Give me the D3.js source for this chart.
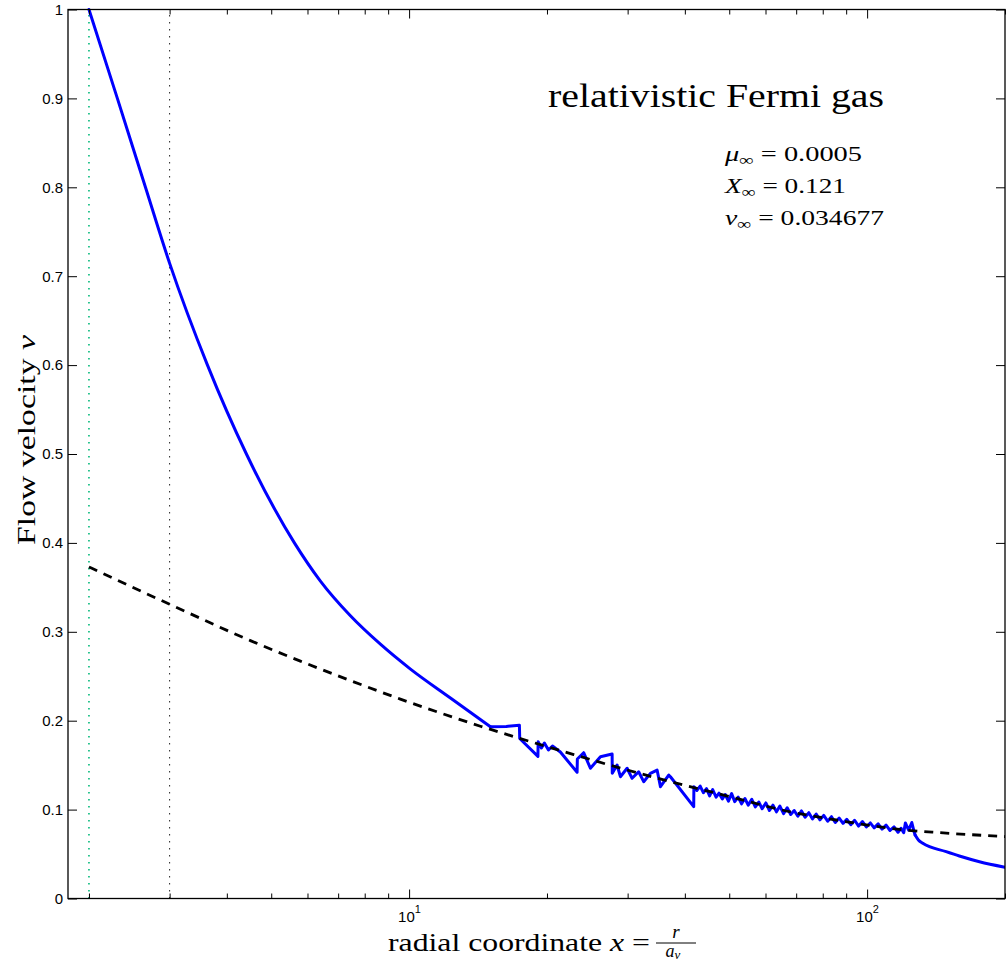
<!DOCTYPE html>
<html>
<head>
<meta charset="utf-8">
<script src="https://cdn.jsdelivr.net/npm/d3@7"></script>
<style>
body { margin: 0; background: #fff; }
</style>
</head>
<body>
<div id="graph"></div>
<script>
var svgWidth = 1008;
var svgHeight = 964;

// blue curve, smooth part before the shocks
var headX = [2.0, 2.307, 2.657, 2.998, 3.629, 4.414, 5.618, 6.403, 7.445, 8.657, 10.07, 12.31, 15.05];
var headV = [1.0, 0.90, 0.80, 0.715, 0.60, 0.50, 0.40, 0.357, 0.318, 0.286, 0.258, 0.2255, 0.1932];

// blue curve, noisy part
var noiseX = [15.05, 16.3, 17.41, 17.44, 19.11, 19.13, 19.45, 19.74, 20.15, 20.56, 21.39, 23.27, 23.30, 24.05, 24.88, 26.17, 27.75,
	27.77, 28.45, 28.93, 29.92, 30.68, 31.71, 32.52, 33.64, 34.79, 35.38, 36.88, 37.2, 41.82, 41.86,
	42.5, 43.2, 43.9, 44.6, 45.3, 46.0, 46.8, 47.5, 48.3, 49.0, 49.8, 50.6, 51.4, 52.3, 53.2, 54.1, 55.0, 56.0, 57.0, 58.0,
	59.0, 60.1, 61.2, 62.3, 63.4, 64.5, 65.7, 66.9, 68.1, 69.3, 70.6, 71.9, 73.2, 74.6, 76.0, 77.4, 78.9, 80.4, 82.0, 83.6,
	85.2, 86.9, 88.6, 90.3, 92.1, 93.9, 95.8, 97.7, 99.6, 101.6, 103.6, 105.7, 107.8, 110.0, 112.2, 114.5, 116.8, 118.6,
	120.2, 121.2, 123.2, 125.2, 126.5, 127.3];
var noiseV = [0.1932, 0.1935, 0.195, 0.180, 0.1598, 0.1764, 0.1693, 0.1749, 0.167, 0.1715, 0.1648, 0.142, 0.1569, 0.164, 0.1465, 0.1595, 0.1625,
	0.1408, 0.1502, 0.137, 0.1465, 0.1352, 0.1426, 0.1314, 0.1408, 0.1445, 0.1258, 0.1389, 0.137, 0.1033, 0.1258,
	0.1215, 0.1265, 0.1190, 0.1235, 0.1155, 0.1225, 0.1140, 0.1185, 0.1120, 0.1170, 0.1095, 0.1180, 0.1090, 0.1140, 0.1065, 0.1125, 0.1050, 0.1115, 0.1030, 0.1085,
	0.1010, 0.1075, 0.0990, 0.1050, 0.0975, 0.1040, 0.0955, 0.1020, 0.0945, 0.0990, 0.0925, 0.0985, 0.0915, 0.0965, 0.0895, 0.0950, 0.0885, 0.0935, 0.0870, 0.0920,
	0.0855, 0.0905, 0.0845, 0.0890, 0.0830, 0.0880, 0.0815, 0.0865, 0.0805, 0.0850, 0.0795, 0.0840, 0.0780, 0.0825, 0.0765, 0.0805, 0.0745, 0.0790,
	0.0740, 0.0850, 0.0770, 0.0855, 0.0760, 0.0714];

// blue curve, smooth tail
var tailX = [127.3, 129.4, 132.3, 148.8, 159.0, 175.9, 200];
var tailV = [0.0714, 0.0658, 0.0621, 0.0527, 0.0478, 0.0414, 0.0352];

// black dashed curve
var dashX = [2.0, 3.0, 4.503, 5.79, 7.445, 9.57, 11.70, 14.31, 17.21, 22.88, 28.45, 38.48, 48.64, 68.0, 87.45, 116.3, 144.5, 200];
var dashV = [0.3729, 0.331, 0.2901, 0.267, 0.2451, 0.2243, 0.2087, 0.1938, 0.181, 0.1619, 0.1477, 0.1295, 0.1163, 0.0975, 0.0875, 0.078, 0.074, 0.0697];

var greenLineX = 2;
var blackLineX = 3;

var yTicks = [0, 0.1, 0.2, 0.3, 0.4, 0.5, 0.6, 0.7, 0.8, 0.9, 1];
var xMajorTicks = [10, 100];
var xMajorExp = ["1", "2"];
var xMinorTicks = [2, 3, 4, 5, 6, 7, 8, 9, 20, 30, 40, 50, 60, 70, 80, 90, 200];

var paramNames = ["μ", "X", "v"];
var paramValues = ["0.0005", "0.121", "0.034677"];
var paramWidths = [137, 121, 159];

var svg = d3.select("#graph")
	.append("svg")
	.attr("width", svgWidth)
	.attr("height", svgHeight)
	.style("display", "block");

var padL = 68, padR = 1005, padT = 9.5, padB = 898.5;

var x = d3.scaleLog().domain([1.8, 200]).range([padL, padR]);
var y = d3.scaleLinear().domain([0, 1]).range([padB, padT]);

svg.append("clipPath").attr("id", "clip")
	.append("rect")
	.attr("x", padL).attr("y", padT - 2)
	.attr("width", padR - padL).attr("height", padB - padT + 2);

var plot = svg.append("g").attr("clip-path", "url(#clip)");

// vertical dotted markers
plot.append("line")
	.attr("x1", x(greenLineX)).attr("x2", x(greenLineX))
	.attr("y1", y(0)).attr("y2", y(1))
	.attr("stroke", "#00b878")
	.attr("stroke-width", 1.6)
	.attr("stroke-dasharray", "1.5,5.5");

plot.append("line")
	.attr("x1", x(blackLineX)).attr("x2", x(blackLineX))
	.attr("y1", y(0)).attr("y2", y(1))
	.attr("stroke", "#222")
	.attr("stroke-width", 1)
	.attr("stroke-dasharray", "1.5,5.5");

function pairs(xs, vs) { return xs.map((d, i) => [d, vs[i]]); }

var smoothLine = d3.line()
	.x(d => x(d[0]))
	.y(d => y(d[1]))
	.curve(d3.curveMonotoneX);

var rawLine = d3.line()
	.x(d => x(d[0]))
	.y(d => y(d[1]));

var blueG = plot.append("g")
	.attr("fill", "none")
	.attr("stroke", "#0000ff")
	.attr("stroke-width", 3)
	.attr("stroke-linejoin", "round")
	.attr("stroke-linecap", "round");

blueG.append("path").datum(pairs(headX, headV)).attr("d", smoothLine);
blueG.append("path").datum(pairs(noiseX, noiseV)).attr("d", rawLine);
blueG.append("path").datum(pairs(tailX, tailV)).attr("d", smoothLine);

plot.append("path")
	.datum(pairs(dashX, dashV))
	.attr("d", smoothLine)
	.attr("fill", "none")
	.attr("stroke", "#000")
	.attr("stroke-width", 2.8)
	.attr("stroke-dasharray", "9,7");

// axes box
svg.append("rect")
	.attr("x", padL).attr("y", padT)
	.attr("width", padR - padL).attr("height", padB - padT)
	.attr("fill", "none")
	.attr("stroke", "#000")
	.attr("stroke-width", 1.3);

var tickFont = "'Liberation Sans', Arial, Helvetica, sans-serif";

var yAxis = svg.append("g")
	.attr("transform", "translate(" + padL + ",0)")
	.call(d3.axisLeft(y).tickValues(yTicks).tickSize(-9).tickPadding(5)
		.tickFormat(d => d === 0 ? "0" : d === 1 ? "1" : d3.format(".1f")(d)));
yAxis.select(".domain").remove();
yAxis.selectAll("text").style("font-family", tickFont).style("font-size", "15px").attr("fill", "#000");

var yAxisR = svg.append("g")
	.attr("transform", "translate(" + padR + ",0)")
	.call(d3.axisRight(y).tickValues(yTicks).tickSize(-9).tickFormat(""));
yAxisR.select(".domain").remove();

function xTicks(g, vals, size, orient) {
	var ax = orient === "bottom" ? d3.axisBottom(x) : d3.axisTop(x);
	g.call(ax.tickValues(vals).tickSize(size).tickFormat(""));
	g.select(".domain").remove();
}
svg.append("g").attr("transform", "translate(0," + padB + ")").call(xTicks, xMajorTicks, -9, "bottom");
svg.append("g").attr("transform", "translate(0," + padB + ")").call(xTicks, xMinorTicks, -5, "bottom");
svg.append("g").attr("transform", "translate(0," + padT + ")").call(xTicks, xMajorTicks, -9, "top");
svg.append("g").attr("transform", "translate(0," + padT + ")").call(xTicks, xMinorTicks, -5, "top");

// x tick labels 10^1, 10^2
xMajorTicks.forEach(function (v, i) {
	var t = svg.append("text")
		.attr("x", x(v) - 11)
		.attr("y", 922)
		.style("font-family", tickFont)
		.style("font-size", "15px");
	t.append("tspan").text("10");
	t.append("tspan").attr("dy", -9).style("font-size", "11px").text(xMajorExp[i]);
});

var serif = "'Liberation Serif', 'Times New Roman', serif";

// title
svg.append("text")
	.attr("x", 548)
	.attr("y", 107)
	.attr("textLength", 336)
	.attr("lengthAdjust", "spacingAndGlyphs")
	.style("font-family", serif)
	.style("font-size", "34px")
	.text("relativistic Fermi gas");

// parameters
paramNames.forEach(function (n, i) {
	var t = svg.append("text")
		.attr("x", 725)
		.attr("y", 161 + i * 32)
		.attr("textLength", paramWidths[i])
		.attr("lengthAdjust", "spacingAndGlyphs")
		.style("font-family", serif)
		.style("font-size", "21px");
	t.append("tspan").style("font-style", "italic").text(n);
	t.append("tspan").attr("dy", 4).style("font-size", "15px").text("∞");
	t.append("tspan").attr("dy", -4).text(" = " + paramValues[i]);
});

// y label
var yl = svg.append("text")
	.attr("transform", "translate(35,440) rotate(-90)")
	.attr("text-anchor", "middle")
	.attr("textLength", 210)
	.attr("lengthAdjust", "spacingAndGlyphs")
	.style("font-family", serif)
	.style("font-size", "25px");
yl.append("tspan").text("Flow velocity ");
yl.append("tspan").style("font-style", "italic").text("v");

// x label
var xl = svg.append("text")
	.attr("x", 388)
	.attr("y", 951)
	.attr("textLength", 262)
	.attr("lengthAdjust", "spacingAndGlyphs")
	.style("font-family", serif)
	.style("font-size", "25px");
xl.append("tspan").text("radial coordinate ");
xl.append("tspan").style("font-style", "italic").text("x");
xl.append("tspan").text(" =");
var fx = 388 + 262 + 6;
var fw = 40;
svg.append("line")
	.attr("x1", fx).attr("x2", fx + fw)
	.attr("y1", 943).attr("y2", 943)
	.attr("stroke", "#000").attr("stroke-width", 1);
svg.append("text")
	.attr("x", fx + fw / 2).attr("y", 938)
	.attr("text-anchor", "middle")
	.style("font-family", serif).style("font-style", "italic").style("font-size", "19px")
	.text("r");
var den = svg.append("text")
	.attr("x", fx + fw / 2 - 3).attr("y", 957)
	.attr("text-anchor", "middle")
	.style("font-family", serif).style("font-size", "18px");
den.append("tspan").style("font-style", "italic").text("a");
den.append("tspan").attr("dy", 2).style("font-size", "13px").style("font-style", "italic").text("ν");
</script>
</body>
</html>
